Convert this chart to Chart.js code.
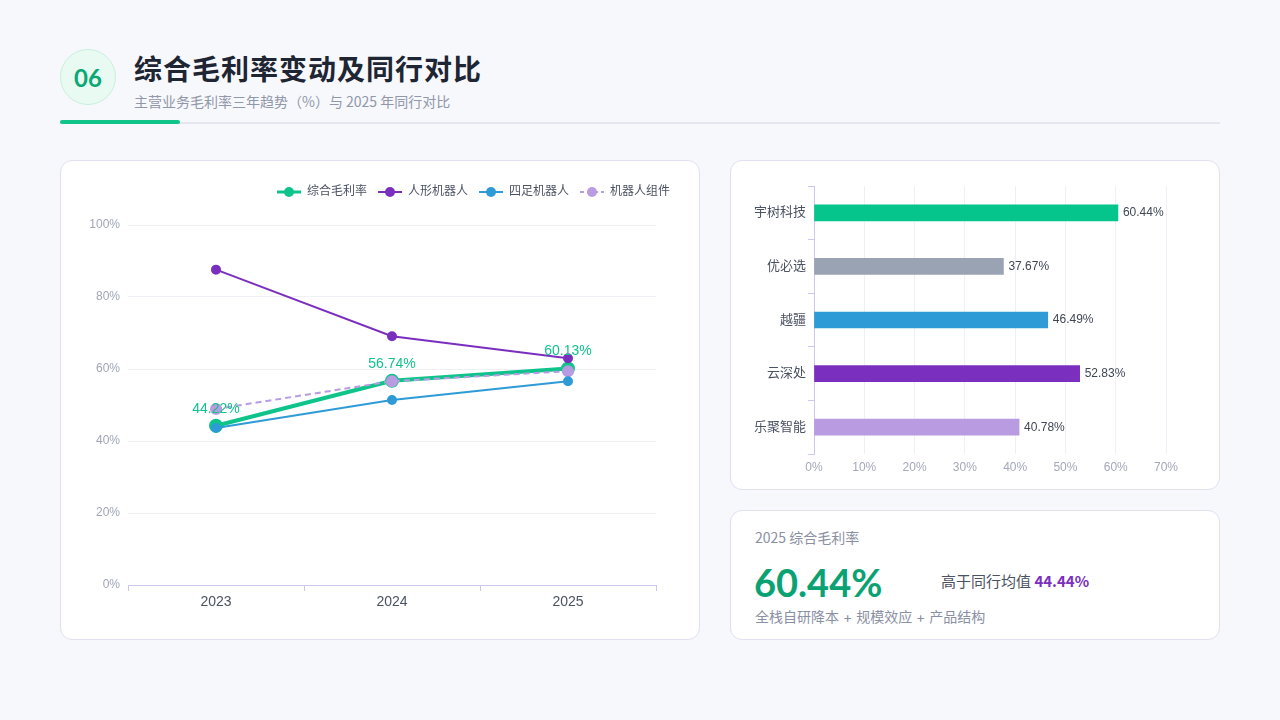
<!DOCTYPE html>
<html lang="zh-CN">
<head>
<meta charset="utf-8">
<title>综合毛利率变动及同行对比</title>
<script src="https://cdn.jsdelivr.net/npm/chart.js@4.4.1/dist/chart.umd.min.js"></script>
<style>
  * { box-sizing: border-box; margin: 0; padding: 0; }
  html, body { width: 1280px; height: 720px; overflow: hidden; background: #f7f8fc;
    font-family: "Noto Sans CJK SC", "Noto Sans", sans-serif; }
  body { position: relative; }
  .badge { position: absolute; left: 60px; top: 49px; width: 56px; height: 56px; border-radius: 50%;
    background: #e9faf2; border: 1px solid #c8efdd; color: #0aa872;
    font: 700 24px Lato, "Noto Sans", sans-serif; display: flex; align-items: center; justify-content: center; }
  .title { position: absolute; left: 134px; top: 48px; font-size: 28px; font-weight: 700; color: #1e2533;
    line-height: 40px; letter-spacing: 1px; }
  .subtitle { position: absolute; left: 134px; top: 91px; font-size: 14px; color: #9097a8; line-height: 20px; }
  .rule { position: absolute; left: 60px; top: 122px; width: 1160px; height: 2px; background: #e5e6f0; }
  .rule-accent { position: absolute; left: 60px; top: 120px; width: 120px; height: 4px; border-radius: 2px; background: #10c48a; }
  .card { position: absolute; background: #fff; border: 1px solid #e2def4; border-radius: 12px; }
  .chart-box { position: absolute; }
  .kpi-label { position: absolute; left: 755px; top: 527px; font-size: 14px; color: #8a90a3; line-height: 20px; }
  .kpi-value { position: absolute; left: 754px; top: 558px; font: 700 38px Lato, "Noto Sans", sans-serif; color: #0aa272; line-height: 48px; }
  .kpi-compare { position: absolute; left: 941px; top: 570px; font-size: 15px; color: #4b5262; line-height: 22px; }
  .kpi-compare b { color: #7b2fbe; font-weight: 700; }
  .kpi-note { position: absolute; left: 755px; top: 606px; font-size: 14px; color: #8a90a3; line-height: 22px;
    font-family: Inter, "Noto Sans CJK SC", sans-serif; }
</style>
</head>
<body>
<div class="badge">06</div>
<div class="title">综合毛利率变动及同行对比</div>
<div class="subtitle">主营业务毛利率三年趋势（%）与 2025 年同行对比</div>
<div class="rule"></div>
<div class="rule-accent"></div>

<div class="card" style="left:60px; top:160px; width:640px; height:480px;"></div>
<div class="card" style="left:730px; top:160px; width:490px; height:330px;"></div>
<div class="card" style="left:730px; top:510px; width:490px; height:130px;"></div>

<div class="chart-box" style="left:76px; top:172px; width:608px; height:456px;"><canvas id="trendChart"></canvas></div>
<div class="chart-box" style="left:746px; top:172px; width:460px; height:305px;"><canvas id="peerChart"></canvas></div>

<div class="kpi-label">2025 综合毛利率</div>
<div class="kpi-value">60.44%</div>
<div class="kpi-compare">高于同行均值 <b>44.44%</b></div>
<div class="kpi-note">全栈自研降本 + 规模效应 + 产品结构</div>

<script>
// ---------------- 数据 ----------------

const years = ['2023', '2024', '2025'];
const grossMargin = [44.22, 56.74, 60.13];
const humanoid = [87.6, 69.1, 63.0];
const quadruped = [43.6, 51.4, 56.6];
const components = [48.9, 56.6, 59.4];

const peers = ['宇树科技', '优必选', '越疆', '云深处', '乐聚智能'];
const peerMargins = [60.44, 37.67, 46.49, 52.83, 40.78];
const peerColors = ['#05c48c', '#9aa3b3', '#2e9bd6', '#7b2fbe', '#b89be0'];

const GREEN = '#0fc48b';
const PURPLE = '#7b2fbe';
const BLUE = '#2e9bd6';
const LAVENDER = '#b89be0';

Chart.defaults.font.family = '"Liberation Sans", "Noto Sans CJK SC", sans-serif';
Chart.defaults.animation = false;

// ---------------- 图例标记（线 + 圆点） ----------------

function legendMarker(color, width, dashed) {
    const c = document.createElement('canvas');
    c.width = 24;
    c.height = 12;
    const g = c.getContext('2d');
    g.strokeStyle = color;
    g.lineWidth = width;
    if (dashed) g.setLineDash([4, 3]);
    g.beginPath();
    g.moveTo(0, 6);
    g.lineTo(24, 6);
    g.stroke();
    g.setLineDash([]);
    g.fillStyle = color;
    g.beginPath();
    g.arc(12, 6, 5, 0, Math.PI * 2);
    g.fill();
    return c;
}

const markers = [
    legendMarker(GREEN, 3, false),
    legendMarker(PURPLE, 2, false),
    legendMarker(BLUE, 2, false),
    legendMarker(LAVENDER, 2, true)
];

// ---------------- 插件 ----------------

// 图例下方多留一点空白
const legendGap = {
    id: 'legendGap',
    beforeLayout(chart) {
        const legend = chart.legend;
        if (!legend || legend._gapPatched) return;
        const fit = legend.fit.bind(legend);
        legend.fit = () => { fit(); legend.height += 17; };
        legend._gapPatched = true;
    }
};

const pointLabels = {
    id: 'pointLabels',
    afterDatasetsDraw(chart) {
        const meta = chart.getDatasetMeta(0);
        const ctx = chart.ctx;
        ctx.save();
        ctx.font = '14px "Liberation Sans", "Noto Sans CJK SC", sans-serif';
        ctx.fillStyle = GREEN;
        ctx.textAlign = 'center';
        ctx.textBaseline = 'middle';
        meta.data.forEach((pt, i) => {
            ctx.fillText(grossMargin[i].toFixed(2) + '%', pt.x, pt.y - 17);
        });
        ctx.restore();
    }
};

const barLabels = {
    id: 'barLabels',
    afterDatasetsDraw(chart) {
        const meta = chart.getDatasetMeta(0);
        const ctx = chart.ctx;
        ctx.save();
        ctx.font = '12px "Liberation Sans", "Noto Sans CJK SC", sans-serif';
        ctx.fillStyle = '#3f4654';
        ctx.textAlign = 'left';
        ctx.textBaseline = 'middle';
        meta.data.forEach((bar, i) => {
            ctx.fillText(peerMargins[i].toFixed(2) + '%', bar.x + 5, bar.y);
        });
        ctx.restore();
    }
};

// ---------------- 毛利率趋势 ----------------

new Chart(document.getElementById('trendChart'), {
    type: 'line',
    data: {
        labels: years,
        datasets: [
            { label: '综合毛利率', data: grossMargin, borderColor: GREEN, backgroundColor: GREEN,
              borderWidth: 4, pointRadius: 5, order: 1 },
            { label: '人形机器人', data: humanoid, borderColor: PURPLE, backgroundColor: PURPLE,
              borderWidth: 2, pointRadius: 4, order: 0 },
            { label: '四足机器人', data: quadruped, borderColor: BLUE, backgroundColor: BLUE,
              borderWidth: 2, pointRadius: 4, order: 0 },
            { label: '机器人组件', data: components, borderColor: LAVENDER, backgroundColor: LAVENDER,
              borderWidth: 2, borderDash: [6, 4], pointRadius: 5, order: 0 }
        ]
    },
    options: {
        responsive: true,
        maintainAspectRatio: false,
        layout: { padding: { right: 3, top: 3 } },
        plugins: {
            tooltip: { enabled: false },
            legend: {
                position: 'top',
                align: 'end',
                labels: {
                    usePointStyle: true,
                    pointStyleWidth: 24,
                    padding: 11,
                    color: '#4b5262',
                    font: { size: 12 },
                    generateLabels(chart) {
                        const items = Chart.defaults.plugins.legend.labels.generateLabels(chart);
                        items.forEach(it => { it.pointStyle = markers[it.datasetIndex]; });
                        return items.sort((a, b) => a.datasetIndex - b.datasetIndex);
                    }
                }
            }
        },
        scales: {
            x: {
                offset: true,
                grid: { offset: true, drawOnChartArea: false, drawTicks: true, tickLength: 6, color: '#cdc6ea' },
                border: { color: '#cdc6ea' },
                ticks: { color: '#4b5262', font: { size: 14 }, padding: 3 },
                afterFit(scale) { scale.height = 43; }
            },
            y: {
                min: 0,
                max: 100,
                grid: { color: '#eff0f5', drawTicks: false },
                border: { display: false },
                ticks: { stepSize: 20, padding: 8, color: '#a0a5b8', font: { size: 12 },
                         callback: v => v + '%' },
                afterFit(scale) { scale.width = 52; }
            },
            // 右侧留白（不显示），让图例比绘图区更靠右
            spacer: {
                type: 'linear',
                position: 'right',
                grid: { display: false },
                border: { display: false },
                ticks: { display: false },
                afterFit(scale) { scale.width = 25; }
            }
        }
    },
    plugins: [legendGap, pointLabels]
});

// ---------------- 同行对比 ----------------

new Chart(document.getElementById('peerChart'), {
    type: 'bar',
    data: {
        labels: peers,
        datasets: [{
            label: '2025 毛利率',
            data: peerMargins,
            backgroundColor: peerColors,
            barThickness: 16
        }]
    },
    options: {
        indexAxis: 'y',
        responsive: true,
        maintainAspectRatio: false,
        layout: { padding: { right: 40, top: 14 } },
        plugins: {
            legend: { display: false },
            tooltip: { enabled: false }
        },
        scales: {
            x: {
                min: 0,
                max: 70,
                grid: { color: '#eef0f6', drawTicks: false },
                border: { display: false },
                ticks: { stepSize: 10, padding: 6, color: '#a3a8ba', font: { size: 12 },
                         callback: v => v + '%' },
                afterFit(scale) { scale.height = 23; }
            },
            y: {
                grid: { drawOnChartArea: false, drawTicks: true, tickLength: 6, color: '#cfc6ee' },
                border: { color: '#cfc6ee' },
                ticks: { color: '#4b5262', font: { size: 13 }, padding: 2 },
                afterFit(scale) { scale.width = 68; }
            }
        }
    },
    plugins: [barLabels]
});
</script>
</body>
</html>
